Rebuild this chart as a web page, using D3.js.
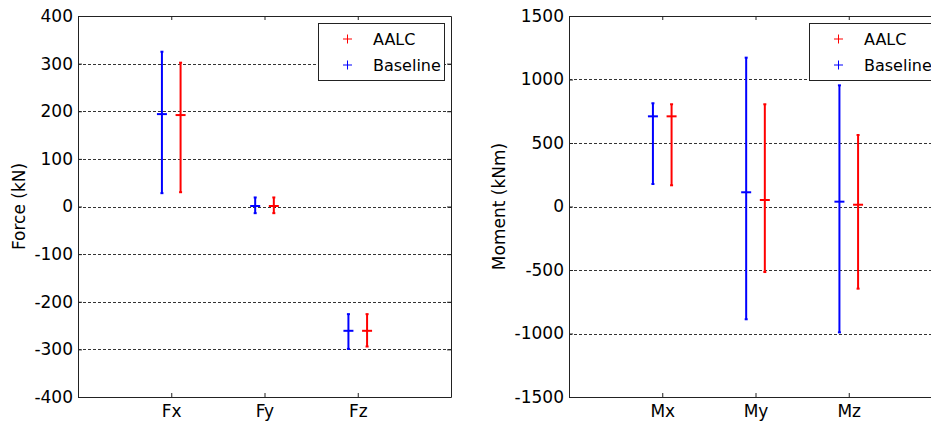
<!DOCTYPE html>
<meta charset="utf-8">
<style>
body { margin: 0; overflow: hidden; background: #fff; }
text { font-family: "DejaVu Sans", sans-serif; fill: #000; }
.grid line { stroke: #333; stroke-width: 1px; stroke-dasharray: 3,2; }
.axis path, .axis line { stroke: #222; }
</style>
<body>
<script src="https://d3js.org/d3.v7.min.js"></script>
<script>

    // force panel
    let forceCats = ["Fx", "Fy", "Fz"];
    let forceTicks = [-400, -300, -200, -100, 0, 100, 200, 300, 400];
    let forceBaseMean = [194, 1, -261];
    let forceBaseLo = [28, -14, -299];
    let forceBaseHi = [325, 19, -226];
    let forceAalcMean = [192, 1, -261];
    let forceAalcLo = [30, -14, -294];
    let forceAalcHi = [302, 19, -226];

    // moment panel
    let momentCats = ["Mx", "My", "Mz"];
    let momentTicks = [-1500, -1000, -500, 0, 500, 1000, 1500];
    let momentBaseMean = [710, 112, 38];
    let momentBaseLo = [177, -888, -991];
    let momentBaseHi = [813, 1172, 954];
    let momentAalcMean = [710, 51, 14];
    let momentAalcLo = [167, -516, -647];
    let momentAalcHi = [805, 805, 563];

    let legendNames = ["AALC", "Baseline"];
    let legendColors = ["#ff0000", "#0000ff"];

    let svg = d3.select("body").append("svg")
        .attr("width", 931)
        .attr("height", 425);

    function drawPanel(o) {
        let g = svg.append("g")
            .attr("transform", "translate(" + o.left + "," + o.top + ")");

        let x = d3.scaleLinear().domain([0, 4]).range([0, o.width]);
        let y = d3.scaleLinear().domain(o.domain).range([o.height, 0]);

        // dashed grid
        g.append("g").attr("class", "grid")
            .selectAll("line")
            .data(o.ticks.slice(1, -1))
            .enter().append("line")
            .attr("x1", 0).attr("x2", o.width)
            .attr("y1", function (d) { return Math.round(y(d)) + 0.5; })
            .attr("y2", function (d) { return Math.round(y(d)) + 0.5; });

        let fmt = function (d) { return String(d); };

        g.append("g").attr("class", "axis")
            .call(d3.axisLeft(y).tickValues(o.ticks).tickFormat(fmt)
                .tickSizeInner(-4).tickSizeOuter(0).tickPadding(5))
            .selectAll("text").style("font-size", "17px");

        g.append("g").attr("class", "axis")
            .attr("transform", "translate(" + o.width + ",0)")
            .call(d3.axisRight(y).tickValues(o.ticks).tickFormat("")
                .tickSizeInner(-4).tickSizeOuter(0));

        g.append("g").attr("class", "axis")
            .attr("transform", "translate(0," + o.height + ")")
            .call(d3.axisBottom(x).tickValues([1, 2, 3])
                .tickFormat(function (d) { return o.cats[d - 1]; })
                .tickSizeInner(-4).tickSizeOuter(0).tickPadding(8))
            .selectAll("text").style("font-size", "17px");

        g.append("g").attr("class", "axis")
            .call(d3.axisTop(x).tickValues([1, 2, 3]).tickFormat("")
                .tickSizeInner(-4).tickSizeOuter(0));

        g.selectAll(".axis .domain").attr("stroke", "#222");

        // y label
        g.append("text")
            .attr("transform", "translate(" + o.labelX + "," + (o.height / 2) + ") rotate(-90)")
            .attr("text-anchor", "middle")
            .attr("dy", "0.35em")
            .style("font-size", "17px")
            .text(o.label);

        // error bars
        let series = [
            {off: -0.1, color: "#0000ff", mean: o.baseMean, lo: o.baseLo, hi: o.baseHi},
            {off: 0.1, color: "#ff0000", mean: o.aalcMean, lo: o.aalcLo, hi: o.aalcHi}
        ];
        series.forEach(function (s) {
            let bars = g.append("g")
                .attr("stroke", s.color)
                .attr("stroke-width", 2)
                .selectAll("g")
                .data(o.cats.map(function (c, i) { return i; }))
                .enter().append("g");
            let cx = function (i) { return x(i + 1 + s.off); };
            bars.append("line")
                .attr("x1", cx).attr("x2", cx)
                .attr("y1", function (i) { return y(s.lo[i]); })
                .attr("y2", function (i) { return y(s.hi[i]); });
            [s.lo, s.hi].forEach(function (arr) {
                bars.append("line")
                    .attr("x1", function (i) { return cx(i) - 1.5; })
                    .attr("x2", function (i) { return cx(i) + 1.5; })
                    .attr("y1", function (i) { return y(arr[i]); })
                    .attr("y2", function (i) { return y(arr[i]); });
            });
            bars.append("line")
                .attr("x1", function (i) { return cx(i) - 5; })
                .attr("x2", function (i) { return cx(i) + 5; })
                .attr("y1", function (i) { return y(s.mean[i]); })
                .attr("y2", function (i) { return y(s.mean[i]); });
        });

        // legend
        let lg = g.append("g")
            .attr("transform", "translate(" + (o.width - 133) + ",7)");
        lg.append("rect")
            .attr("x", 0.5).attr("y", 0.5)
            .attr("width", 126).attr("height", 57)
            .attr("fill", "#fff").attr("stroke", "#222");
        legendNames.forEach(function (n, i) {
            let cy = 16 + i * 26;
            lg.append("path")
                .attr("d", "M25," + cy + "h9M29.5," + (cy - 4.5) + "v9")
                .attr("stroke", legendColors[i]).attr("stroke-width", 1);
            lg.append("text")
                .attr("x", 55).attr("y", cy).attr("dy", "0.35em")
                .style("font-size", "16px")
                .text(n);
        });
    }

    drawPanel({
        left: 78, top: 16, width: 373, height: 381,
        domain: [-400, 400], ticks: forceTicks, cats: forceCats,
        label: "Force (kN)", labelX: -59,
        baseMean: forceBaseMean, baseLo: forceBaseLo, baseHi: forceBaseHi,
        aalcMean: forceAalcMean, aalcLo: forceAalcLo, aalcHi: forceAalcHi
    });

    drawPanel({
        left: 569, top: 16, width: 373, height: 381,
        domain: [-1500, 1500], ticks: momentTicks, cats: momentCats,
        label: "Moment (kNm)", labelX: -70,
        baseMean: momentBaseMean, baseLo: momentBaseLo, baseHi: momentBaseHi,
        aalcMean: momentAalcMean, aalcLo: momentAalcLo, aalcHi: momentAalcHi
    });

</script>
</body>
